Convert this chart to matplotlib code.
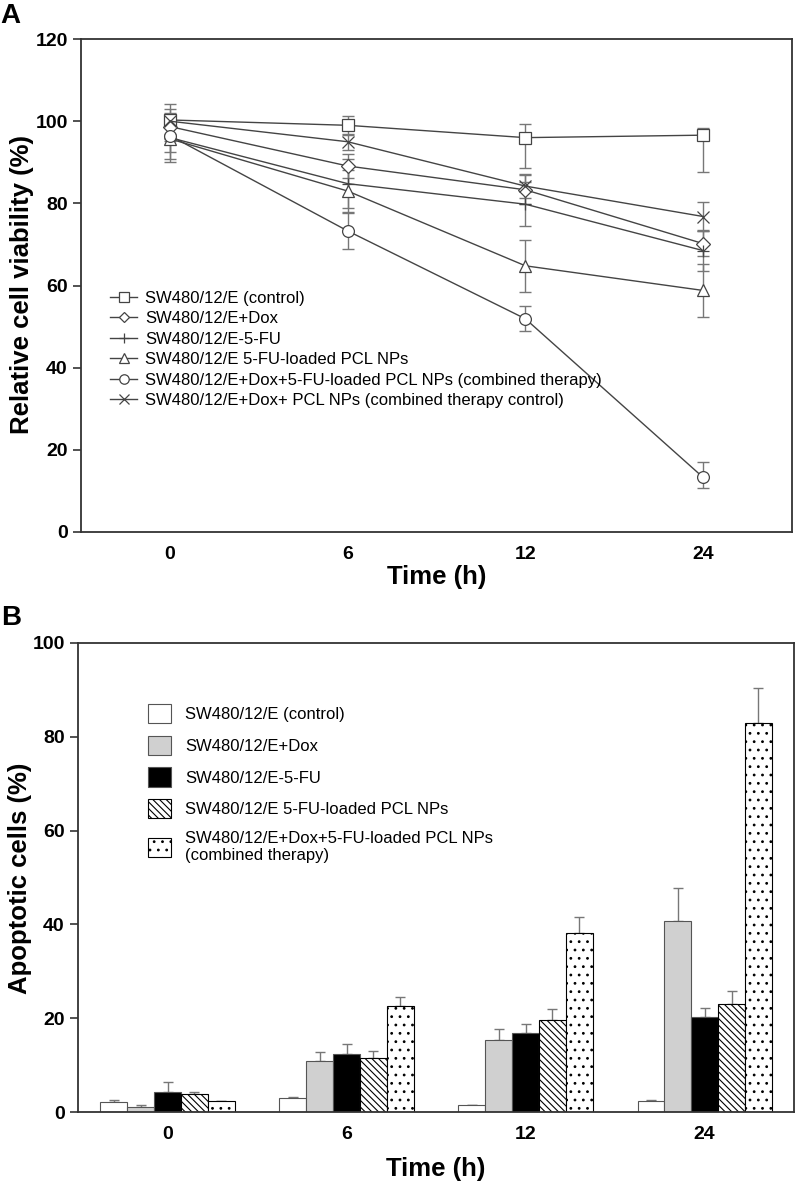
import numpy as np
import matplotlib
matplotlib.use('Agg')
import matplotlib.pyplot as plt

plt.rcParams['font.family'] = ['Liberation Sans', 'DejaVu Sans']
plt.rcParams['hatch.linewidth'] = 0.8

times = ['0', '6', '12', '24']

# panel A: relative viability (%), with lower / upper error
line_labels = ['SW480/12/E (control)',
               'SW480/12/E+Dox',
               'SW480/12/E-5-FU',
               'SW480/12/E 5-FU-loaded PCL NPs',
               'SW480/12/E+Dox+5-FU-loaded PCL NPs (combined therapy)',
               'SW480/12/E+Dox+ PCL NPs (combined therapy control)']
control_v = [100.3, 99.0, 96.0, 96.6]
dox_v = [98.7, 89.1, 83.3, 70.2]
fu_v = [96.0, 84.8, 79.8, 68.5]
np_v = [95.7, 83.0, 64.8, 58.8]
comb_v = [96.5, 73.3, 51.9, 13.3]
combctl_v = [100.0, 95.0, 84.2, 76.8]
control_lo = [5.0, 2.3, 7.5, 9.0]
control_hi = [4.0, 2.3, 3.2, 1.8]
dox_err = [3.0, 3.0, 3.5, 3.0]
fu_err = [6.0, 6.0, 5.3, 5.0]
np_err = [5.0, 5.0, 6.3, 6.5]
comb_lo = [4.0, 4.3, 3.0, 2.5]
comb_hi = [4.0, 4.3, 3.0, 3.7]
combctl_err = [3.0, 2.0, 3.0, 3.6]

# panel B: apoptotic cells (%), upper error only
bar_labels = ['SW480/12/E (control)',
              'SW480/12/E+Dox',
              'SW480/12/E-5-FU',
              'SW480/12/E 5-FU-loaded PCL NPs',
              'SW480/12/E+Dox+5-FU-loaded PCL NPs\n(combined therapy)']
ctl_b = [2.2, 3.0, 1.4, 2.4]
dox_b = [1.1, 10.8, 15.3, 40.8]
fu_b = [4.3, 12.4, 16.8, 20.2]
np_b = [3.8, 11.6, 19.6, 23.0]
comb_b = [2.3, 22.5, 38.2, 82.9]
ctl_be = [0.3, 0.3, 0.2, 0.1]
dox_be = [0.4, 1.9, 2.5, 7.0]
fu_be = [2.1, 2.0, 2.0, 2.0]
np_be = [0.5, 1.4, 2.4, 2.7]
comb_be = [0.1, 2.0, 3.3, 7.4]

fig = plt.figure(figsize=(7.95, 11.83), dpi=100)
axA = fig.add_axes([0.1019, 0.5503, 0.8943, 0.4167])
axB = fig.add_axes([0.0981, 0.0600, 0.9009, 0.3965])

x = np.arange(len(times))
lc = '#444444'
ec = '#777777'
series = [(control_v, [control_lo, control_hi], 's'),
          (dox_v, [dox_err, dox_err], 'D'),
          (fu_v, [fu_err, fu_err], '+'),
          (np_v, [np_err, np_err], '^'),
          (comb_v, [comb_lo, comb_hi], 'o'),
          (combctl_v, [combctl_err, combctl_err], 'x')]
handles = []
for (vals, err, mk), lab in zip(series, line_labels):
    axA.errorbar(x, vals, yerr=err, fmt='none', ecolor=ec, elinewidth=1,
                 capsize=4, capthick=1, zorder=2)
    ms = 7 if mk == 'D' else 8.5
    h, = axA.plot(x, vals, color=lc, lw=1, marker=mk, ms=ms,
                  mfc='white', mec=lc, mew=0.9, label=lab, zorder=3)
    handles.append(h)

axA.set_xlim(-0.5, 3.5)
axA.set_ylim(0, 120)
axA.set_yticks(np.arange(0, 121, 20))
axA.set_xticks(x)
axA.set_xticklabels(times)
axA.set_xlabel('Time (h)', fontsize=18.5, fontweight='bold', labelpad=1.5)
axA.legend(handles=handles, loc='upper left', bbox_to_anchor=(0.02, 0.52),
           frameon=False, fontsize=12, handlelength=1.6, handletextpad=0.5,
           labelspacing=0.33, markerscale=0.8)

bar_vals = [ctl_b, dox_b, fu_b, np_b, comb_b]
bar_errs = [ctl_be, dox_be, fu_be, np_be, comb_be]
faces = ['white', '#d0d0d0', 'black', 'white', 'white']
hatches = [None, None, None, '\\\\\\\\\\', '..']
w = 0.15
for i, (vals, errs, fc, ht, lab) in enumerate(zip(bar_vals, bar_errs, faces, hatches, bar_labels)):
    pos = x + (i - 2) * w
    axB.bar(pos, vals, w, color=fc, edgecolor='#555555' if ht is None else 'black',
            linewidth=0.8, hatch=ht, label=lab, zorder=2)
    axB.errorbar(pos, vals, yerr=[[0] * len(vals), errs], fmt='none', ecolor=ec,
                 elinewidth=1, capsize=3.5, capthick=1, zorder=1)

axB.set_xlim(-0.5, 3.5)
axB.set_ylim(0, 100)
axB.set_yticks(np.arange(0, 101, 20))
axB.set_xticks(x)
axB.set_xticklabels(times)
axB.set_xlabel('Time (h)', fontsize=18.5, fontweight='bold', labelpad=10)
axB.legend(loc='upper left', bbox_to_anchor=(0.077, 0.902), frameon=False,
           fontsize=12, handlelength=1.4, handleheight=1.4, handletextpad=0.8,
           labelspacing=0.75)

for ax in (axA, axB):
    for s in ax.spines.values():
        s.set_color('#333333')
        s.set_linewidth(1.3)
    ax.tick_params(axis='y', direction='out', length=6, width=1.2, color='#333333',
                   labelsize=14)
    ax.tick_params(axis='x', length=0, labelsize=14, pad=10)
    for t in ax.get_xticklabels() + ax.get_yticklabels():
        t.set_fontweight('bold')

fig.text(22 / 795, 1 - 285 / 1183, 'Relative cell viability (%)', rotation=90,
         ha='center', va='center', fontsize=18.5, fontweight='bold')
fig.text(20 / 795, 1 - 878 / 1183, 'Apoptotic cells (%)', rotation=90,
         ha='center', va='center', fontsize=18.5, fontweight='bold')
fig.text(0.0, 0.9975, 'A', fontsize=20, fontweight='bold', va='top')
fig.text(0.002, 0.4886, 'B', fontsize=20, fontweight='bold', va='top')

plt.savefig('out.png', dpi=100)
plt.close()
